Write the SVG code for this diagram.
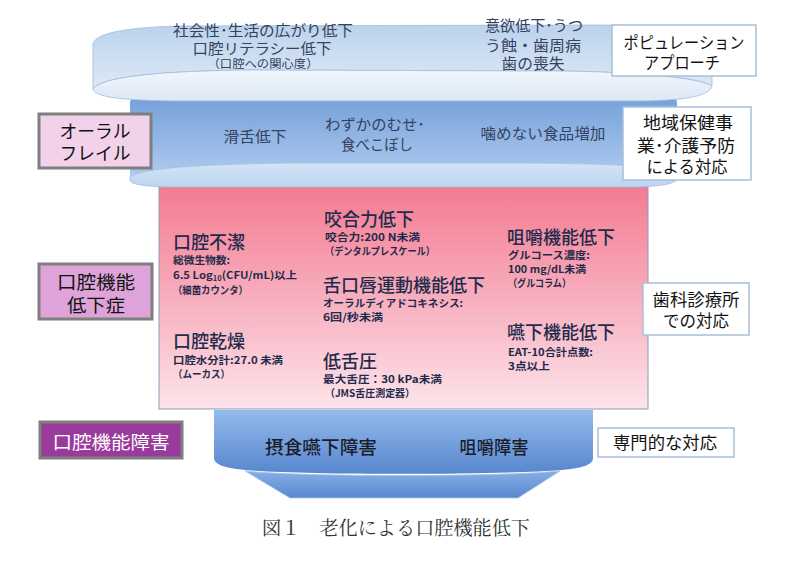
<svg xmlns="http://www.w3.org/2000/svg" width="800" height="564" viewBox="0 0 800 564">
<defs>
<linearGradient id="gTopFace" x1="0" y1="0" x2="0" y2="1"><stop offset="0" stop-color="#bcd3ec"/><stop offset="1" stop-color="#dde9f6"/></linearGradient>
<linearGradient id="gTopLip" x1="0" y1="0" x2="0" y2="1"><stop offset="0" stop-color="#f1f6fc"/><stop offset="1" stop-color="#dce8f5"/></linearGradient>
<linearGradient id="gMidFace" x1="0" y1="0" x2="0" y2="1"><stop offset="0" stop-color="#75a0da"/><stop offset="1" stop-color="#aecbee"/></linearGradient>
<linearGradient id="gMidLip" x1="0" y1="0" x2="0" y2="1"><stop offset="0" stop-color="#d3e4f6"/><stop offset="1" stop-color="#bcd5f0"/></linearGradient>
<linearGradient id="gPink" x1="0" y1="0" x2="0" y2="1"><stop offset="0" stop-color="#f47a90"/><stop offset="0.5" stop-color="#f7aebd"/><stop offset="1" stop-color="#fde4ea"/></linearGradient>
<linearGradient id="gBotFace" x1="0" y1="0" x2="0" y2="1"><stop offset="0" stop-color="#92bbec"/><stop offset="1" stop-color="#5886ce"/></linearGradient>
<linearGradient id="gBotLip" x1="0" y1="0" x2="0" y2="1"><stop offset="0" stop-color="#86afe6"/><stop offset="1" stop-color="#5a88d0"/></linearGradient>
</defs>
<style>
text{font-family:"Noto Sans CJK JP","Noto Sans",sans-serif;}
.band{fill:#34425f;font-size:15px;text-anchor:middle;}
.bandS{fill:#34425f;font-size:11.5px;text-anchor:middle;}
.h{fill:#1f2b4c;font-size:18px;font-weight:500;}
.s{fill:#1f2b4c;font-size:10.5px;font-weight:700;}
.note{fill:#111;font-size:16.5px;text-anchor:middle;}
.lbl{fill:#111;font-size:18px;text-anchor:middle;}
.bot{fill:#1b1d2b;font-size:18.5px;font-weight:500;text-anchor:middle;}
.wbox{fill:#ffffff;stroke:#a9bfd8;stroke-width:1.5;}
.gbox{stroke:#7f7f7f;stroke-width:3;}
.cap{font-family:"Noto Serif CJK JP","Liberation Serif","Noto Sans CJK JP",serif;fill:#333;font-size:19px;text-anchor:middle;}
</style>

<g id="dysfunction-band">
<path d="M214,410 L593,410 L593,458 C593,465 582,468 562,470 C500,475 300,475 245,470 C226,468 214,465 214,458 Z" fill="url(#gBotFace)"/>
<path d="M245,471 C300,477 500,477 560,471 L518,498 L290,498 Z" fill="url(#gBotLip)" stroke="#a9c7ee" stroke-width="0.8"/>
<text class="bot" x="321" y="454" textLength="112" lengthAdjust="spacingAndGlyphs">摂食嚥下障害</text>
<text class="bot" x="494" y="454" textLength="69" lengthAdjust="spacingAndGlyphs">咀嚼障害</text>
</g>

<g id="hypofunction-box">
<rect x="159" y="185" width="489" height="224" fill="url(#gPink)" stroke="#8d9cb8" stroke-width="1"/>
<text class="h" x="173" y="249">口腔不潔</text>
<text class="s" x="173" y="264" textLength="57" lengthAdjust="spacingAndGlyphs">総微生物数:</text>
<text class="s" x="173" y="279" textLength="124" lengthAdjust="spacingAndGlyphs">6.5 Log<tspan font-size="7" dy="2">10</tspan><tspan dy="-2">(CFU/mL)以上</tspan></text>
<text class="s" x="173" y="294" textLength="75" lengthAdjust="spacingAndGlyphs">（細菌カウンタ）</text>
<text class="h" x="173" y="348">口腔乾燥</text>
<text class="s" x="173" y="364" textLength="110" lengthAdjust="spacingAndGlyphs">口腔水分計:27.0 未満</text>
<text class="s" x="173" y="378" textLength="57" lengthAdjust="spacingAndGlyphs">（ムーカス）</text>

<text class="h" x="324" y="226">咬合力低下</text>
<text class="s" x="325" y="241" textLength="95" lengthAdjust="spacingAndGlyphs">咬合力:200 N未満</text>
<text class="s" x="325" y="255" textLength="110" lengthAdjust="spacingAndGlyphs">（デンタルプレスケール）</text>
<text class="h" x="323" y="292">舌口唇運動機能低下</text>
<text class="s" x="323" y="307" textLength="140" lengthAdjust="spacingAndGlyphs">オーラルディアドコキネシス:</text>
<text class="s" x="323" y="321" textLength="60" lengthAdjust="spacingAndGlyphs">6回/秒未満</text>
<text class="h" x="323" y="368">低舌圧</text>
<text class="s" x="323" y="383" textLength="119" lengthAdjust="spacingAndGlyphs">最大舌圧：30 kPa未満</text>
<text class="s" x="325" y="397" textLength="90" lengthAdjust="spacingAndGlyphs">（JMS舌圧測定器）</text>

<text class="h" x="507" y="244">咀嚼機能低下</text>
<text class="s" x="508" y="259" textLength="82" lengthAdjust="spacingAndGlyphs">グルコース濃度:</text>
<text class="s" x="508" y="273" textLength="78" lengthAdjust="spacingAndGlyphs">100 mg/dL未満</text>
<text class="s" x="508" y="287" textLength="63" lengthAdjust="spacingAndGlyphs">（グルコラム）</text>
<text class="h" x="507" y="339">嚥下機能低下</text>
<text class="s" x="508" y="356" textLength="85" lengthAdjust="spacingAndGlyphs">EAT-10合計点数:</text>
<text class="s" x="508" y="370" textLength="42" lengthAdjust="spacingAndGlyphs">3点以上</text>
</g>

<g id="frailty-band">
<path d="M130,104 Q130,96 140,96 L668,96 Q677,96 677,104 L677,172 C665,166 600,163 500,163 L300,163 C200,164 142,168 130,177 Z" fill="url(#gMidFace)"/>
<path d="M130,177 C142,168 200,164 300,163 L500,163 C600,163 665,166 677,172 L677,178 C677,184 660,186 640,187 L165,187 C142,186 130,184 130,180 Z" fill="url(#gMidLip)" stroke="#9dbde6" stroke-width="0.8"/>
<text class="band" x="255" y="142" font-size="16" textLength="63" lengthAdjust="spacingAndGlyphs">滑舌低下</text>
<text class="band" x="375" y="130" font-size="15.5" textLength="100" lengthAdjust="spacingAndGlyphs">わずかのむせ･</text>
<text class="band" x="377" y="150" font-size="15.5" textLength="72" lengthAdjust="spacingAndGlyphs">食べこぼし</text>
<text class="band" x="543" y="139" font-size="16" textLength="125" lengthAdjust="spacingAndGlyphs">噛めない食品増加</text>
</g>

<g id="population-band">
<path d="M93,44 C95,31 140,27 180,26 L600,25 C680,26 710,30 712,42 L712,86 C700,78 640,72 560,71 L250,70 C150,71 100,78 93,89 Z" fill="url(#gTopFace)" stroke="#9fbbdc" stroke-width="0.8"/>
<path d="M93,89 C100,78 150,71 250,70 L560,71 C640,72 700,78 712,86 C710,95 690,100 645,101 L170,101 C120,100 95,97 93,89 Z" fill="url(#gTopLip)" stroke="#9fbbdc" stroke-width="0.8"/>
<text class="band" x="263" y="36" textLength="180" lengthAdjust="spacingAndGlyphs">社会性･生活の広がり低下</text>
<text class="band" x="262" y="54" textLength="139" lengthAdjust="spacingAndGlyphs">口腔リテラシー低下</text>
<text class="bandS" x="263" y="68" textLength="111" lengthAdjust="spacingAndGlyphs">（口腔への関心度）</text>
<text class="band" x="534" y="31" textLength="98" lengthAdjust="spacingAndGlyphs">意欲低下･うつ</text>
<text class="band" x="533" y="51" textLength="96" lengthAdjust="spacingAndGlyphs">う蝕・歯周病</text>
<text class="band" x="533" y="69" textLength="63" lengthAdjust="spacingAndGlyphs">歯の喪失</text>
</g>

<g id="population-approach">
<rect class="wbox" x="612" y="25" width="144" height="51"/>
<text class="note" x="684" y="49" font-size="16" textLength="121" lengthAdjust="spacingAndGlyphs">ポピュレーション</text>
<text class="note" x="682" y="69" font-size="16" textLength="76" lengthAdjust="spacingAndGlyphs">アプローチ</text>
</g>

<g id="community-response">
<rect class="wbox" x="623" y="107" width="128" height="73"/>
<text class="note" x="688" y="129" textLength="90" lengthAdjust="spacingAndGlyphs">地域保健事</text>
<text class="note" x="686" y="152" textLength="98" lengthAdjust="spacingAndGlyphs">業･介護予防</text>
<text class="note" x="687" y="173" textLength="81" lengthAdjust="spacingAndGlyphs">による対応</text>
</g>

<g id="dental-clinic-response">
<rect class="wbox" x="643" y="283" width="106" height="52"/>
<text class="note" x="696" y="306" textLength="87" lengthAdjust="spacingAndGlyphs">歯科診療所</text>
<text class="note" x="696" y="327" textLength="66" lengthAdjust="spacingAndGlyphs">での対応</text>
</g>

<g id="specialist-response">
<rect class="wbox" x="598" y="428" width="136" height="29"/>
<text class="note" x="665" y="449" textLength="104" lengthAdjust="spacingAndGlyphs">専門的な対応</text>
</g>

<g id="label-oral-frailty">
<rect class="gbox" x="39" y="114" width="112" height="54" fill="#f2d2ea"/>
<text class="lbl" x="95" y="138" textLength="71" lengthAdjust="spacingAndGlyphs">オーラル</text>
<text class="lbl" x="95" y="160" textLength="71" lengthAdjust="spacingAndGlyphs">フレイル</text>
</g>

<g id="label-oral-hypofunction">
<rect class="gbox" x="39" y="264" width="113" height="55" fill="#dea3d8"/>
<text class="lbl" x="96" y="289" textLength="78" lengthAdjust="spacingAndGlyphs">口腔機能</text>
<text class="lbl" x="96" y="312" textLength="58" lengthAdjust="spacingAndGlyphs">低下症</text>
</g>

<g id="label-oral-dysfunction">
<rect class="gbox" x="40" y="422" width="142" height="36" fill="#9b3a9d"/>
<text class="lbl" x="111" y="449" style="fill:#ffffff" textLength="117" lengthAdjust="spacingAndGlyphs">口腔機能障害</text>
</g>

<g id="connectors"></g>

<text class="cap" x="396" y="535" textLength="268" lengthAdjust="spacingAndGlyphs">図１　老化による口腔機能低下</text>
</svg>
